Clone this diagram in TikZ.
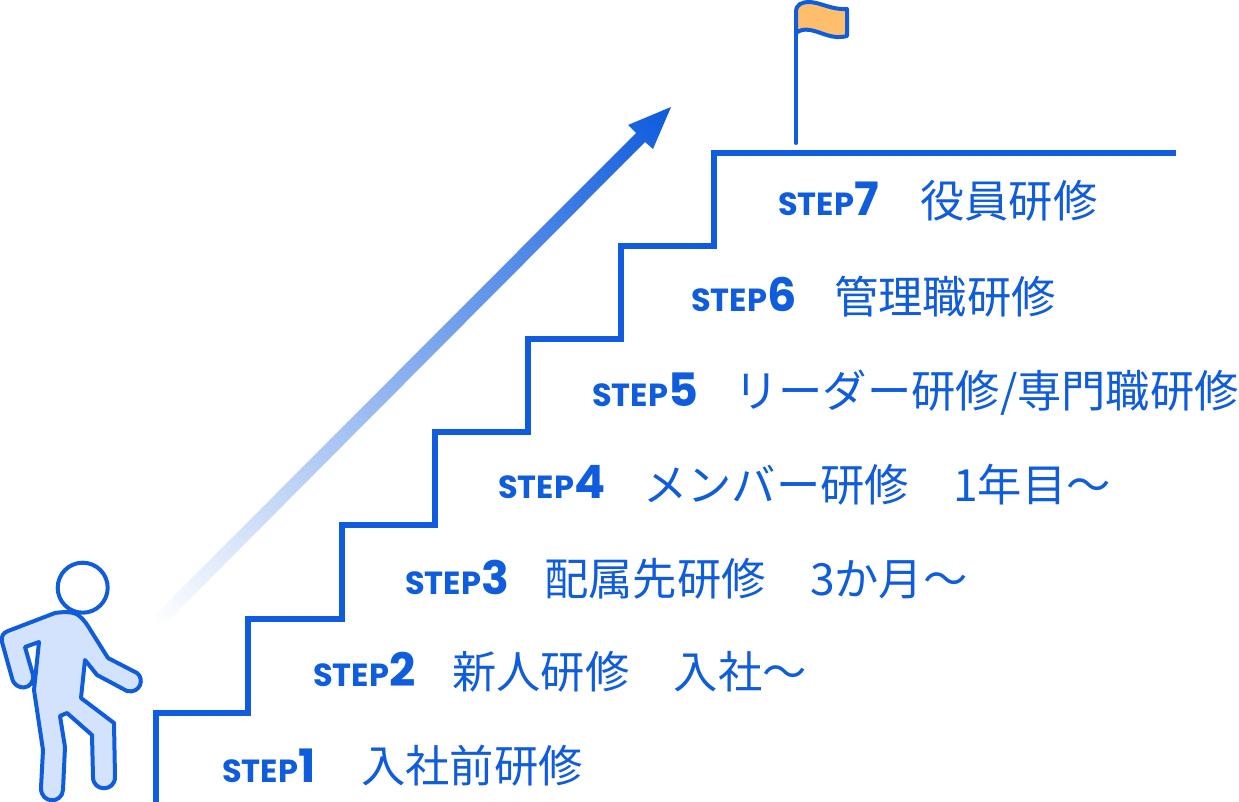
\documentclass[tikz,border=0pt]{standalone}
\usepackage{fontspec}
\newfontfamily\jpfont{Noto Sans CJK JP}
\newfontfamily\stepfont{Poppins}
\definecolor{stairblue}{HTML}{0F5CDD}
\definecolor{bodyblue}{HTML}{D3E3FD}
\definecolor{flagorange}{HTML}{FFBE6B}
\pgfdeclarehorizontalshading{arrowfade}{100bp}{color(0bp)=(white); color(15bp)=(white); color(85bp)=(stairblue); color(100bp)=(stairblue)}
\tikzset{
  stepname/.style={anchor=base west, inner sep=0pt, text=stairblue, font=\stepfont\bfseries\fontsize{32}{32}\selectfont},
  stepname text/.style={anchor=base west, inner sep=0pt, text=stairblue, font=\jpfont\fontsize{44.3}{44.3}\selectfont},
  outline/.style={draw=stairblue, line width=4pt, line join=round}
}
\newcommand{\stepno}[1]{{\fontsize{46}{46}\selectfont #1}}
\begin{document}
\begin{tikzpicture}[x=1pt,y=-1pt]
      \useasboundingbox (0,0) rectangle (1239,802);
      % stairs
      \draw[stairblue, line width=5.5pt, line join=miter] (156,802) -- (156,713) -- (248,713)
            -- (248,619) -- (342,619) -- (342,525) -- (435,525) -- (435,432) -- (528,432)
            -- (528,339) -- (621,339) -- (621,246) -- (714,246) -- (714,153) -- (1176,153);
      % arrow
      \path[shading=arrowfade, shading angle=45]
            (150,620) -- (636,133) -- (628,125) -- (671,107) -- (653,149) -- (645,142) -- (160,629) -- cycle;
      % flag
      \draw[stairblue, line width=4pt, line cap=round] (796,143) -- (796,33);
      \draw[outline, fill=flagorange] (796,33) -- (796,12) .. controls (796,4) and (802,2) .. (810,2)
            .. controls (822,3) and (832,10) .. (847,9) -- (847,36)
            .. controls (832,40) and (822,32) .. (810,30) .. controls (804,29) and (800,30) .. (796,33) -- cycle;
      % person
      \draw[outline, fill=bodyblue] (55,613) .. controls (62,612) and (72,611) .. (78,615)
            .. controls (84,619) and (88,626) .. (91,631) -- (108,658) -- (137,673)
            .. controls (145,679) and (140,694) .. (127,691) -- (97,675) -- (85,660) -- (81,698)
            -- (114,723) -- (115,777) .. controls (115,792) and (93,792) .. (93,777) -- (92,735)
            -- (67,713) -- (60,716) -- (65,747) -- (63,790)
            .. controls (62,804) and (41,804) .. (41,788) -- (43,750) -- (34,690) -- (39,642)
            -- (25,647) -- (33,675) .. controls (35,690) and (15,692) .. (12,678)
            -- (2,642) .. controls (1,636) and (3,633) .. (8,631) -- cycle;
      \draw[outline, fill=white] (82.7,587.7) circle [radius=25];
      % labels
      \node[stepname] (stepa) at (222,782) {STEP\stepno{1}};
      \node[stepname] (stepb) at (313,686) {STEP\stepno{2}};
      \node[stepname] (stepc) at (405,594) {STEP\stepno{3}};
      \node[stepname] (stepd) at (498,498) {STEP\stepno{4}};
      \node[stepname] (stepe) at (592,406) {STEP\stepno{5}};
      \node[stepname] (stepf) at (691,312) {STEP\stepno{6}};
      \node[stepname] (stepg) at (778,216) {STEP\stepno{7}};
      \node[stepname text] (texta) at (361,782) {入社前研修};
      \node[stepname text] (textb) at (452,688) {新人研修　入社～};
      \node[stepname text] (textc) at (544,595) {配属先研修　3か月～};
      \node[stepname text] (textd) at (643,501) {メンバー研修　1年目～};
      \node[stepname text] (texte) at (734,407) {リーダー研修/専門職研修};
      \node[stepname text] (textf) at (834,313) {管理職研修};
      \node[stepname text] (textg) at (920,218) {役員研修};
  \end{tikzpicture}
\end{document}
